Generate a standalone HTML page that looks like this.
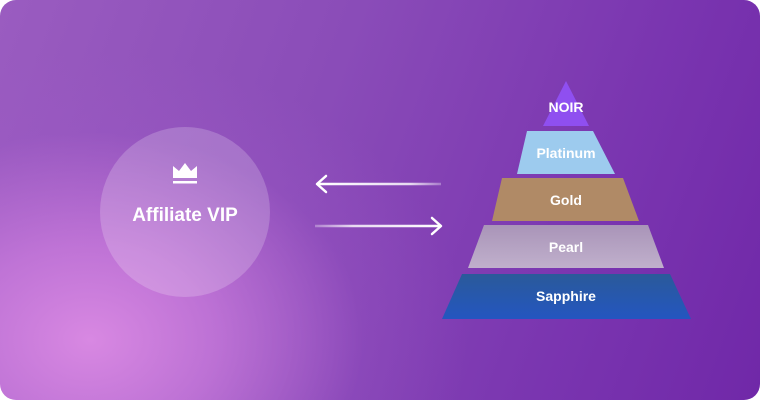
<!DOCTYPE html>
<html><head><style>
html,body{margin:0;padding:0;background:#fff;}
.c{position:relative;width:760px;height:400px;border-radius:16px;overflow:hidden;
background:radial-gradient(ellipse 420px 320px at 90px 340px,#d888e2 0%,rgba(205,125,222,0.75) 30%,rgba(160,90,200,0.25) 65%,rgba(150,80,190,0) 90%),
linear-gradient(110deg,#9a5cc0 0%,#8a4cb8 40%,#7a35b0 75%,#7028a8 100%);
font-family:"Liberation Sans",sans-serif;}
svg{position:absolute;left:0;top:0}
</style></head><body>
<div class="c">
<svg width="760" height="400">
<defs>
<linearGradient id="la" gradientUnits="userSpaceOnUse" x1="318" y1="0" x2="441" y2="0"><stop offset="0" stop-color="#fff"/><stop offset="0.75" stop-color="#fff" stop-opacity="0.8"/><stop offset="1" stop-color="#fff" stop-opacity="0.3"/></linearGradient>
<linearGradient id="ra" gradientUnits="userSpaceOnUse" x1="315" y1="0" x2="441" y2="0"><stop offset="0" stop-color="#fff" stop-opacity="0.3"/><stop offset="0.3" stop-color="#fff" stop-opacity="0.8"/><stop offset="1" stop-color="#fff"/></linearGradient>
<linearGradient id="sp" x1="0" y1="0" x2="0" y2="1"><stop offset="0" stop-color="#2a5a9a"/><stop offset="1" stop-color="#2456c0"/></linearGradient>
<linearGradient id="pe" x1="0" y1="0" x2="0" y2="1"><stop offset="0" stop-color="#a994b8"/><stop offset="1" stop-color="#c0b0cc"/></linearGradient>
</defs>
<circle cx="185" cy="212" r="85" fill="#fff" fill-opacity="0.2"/>
<g fill="#fff">
<path d="M173 178 L173 166 L179 171 L185 163 L191 171 L197 166 L197 178 Z"/>
<rect x="173" y="181" width="24" height="2.5"/>
</g>
<text x="185" y="221" fill="#fff" font-size="19" font-weight="bold" text-anchor="middle">Affiliate VIP</text>
<line x1="318" y1="184" x2="441" y2="184" stroke="url(#la)" stroke-width="2.5"/>
<polyline points="326,176 317,184 326,192" fill="none" stroke="#fff" stroke-width="2.5" stroke-linecap="round" stroke-linejoin="round"/>
<line x1="315" y1="226" x2="440" y2="226" stroke="url(#ra)" stroke-width="2.5"/>
<polyline points="432,218 441,226 432,234" fill="none" stroke="#fff" stroke-width="2.5" stroke-linecap="round" stroke-linejoin="round"/>
<polygon points="566,81 589,126 543,126" fill="#8f4ff0"/>
<polygon points="527,131 593,131 615,174 517,174" fill="#9dcbee"/>
<polygon points="502,178 623,178 639,221 492,221" fill="#b08a66"/>
<polygon points="484,225 648,225 664,268 468,268" fill="url(#pe)"/>
<polygon points="462,274 670,274 691,319 442,319" fill="url(#sp)"/>
<g fill="#fff" font-size="14" font-weight="bold" text-anchor="middle">
<text x="566" y="112">NOIR</text>
<text x="566" y="158">Platinum</text>
<text x="566" y="205">Gold</text>
<text x="566" y="252">Pearl</text>
<text x="566" y="301">Sapphire</text>
</g>
</svg>
</div>
</body></html>
